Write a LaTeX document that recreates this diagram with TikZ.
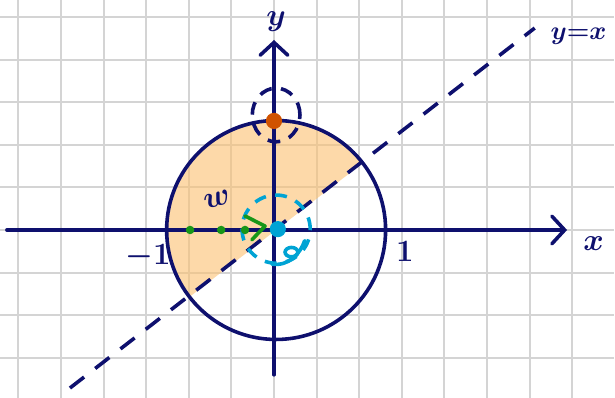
\documentclass[tikz,border=0pt]{standalone}
\usepackage{xcolor}
\usepackage{amsmath}
\usepackage{tikz}
\usetikzlibrary{arrows.meta, positioning, shapes.geometric, calc}
\definecolor{inknavy}{RGB}{14,16,110}
\definecolor{gridgray}{RGB}{212,212,212}
\definecolor{regionorange}{RGB}{251,192,112}
\definecolor{pointorange}{RGB}{208,82,0}
\definecolor{anglecyan}{RGB}{0,163,212}
\definecolor{pathgreen}{RGB}{24,150,24}
\tikzset{
  gridline/.style={draw=gridgray, line width=1.3pt},
  axis/.style={draw=inknavy, line width=2.4pt, line cap=round,
               -{Straight Barb[length=3mm, width=6.5mm, line cap=round]}},
  unitcircle/.style={draw=inknavy, line width=2.4pt, circle, inner sep=0pt, minimum size=5.14cm},
  diagline/.style={draw=inknavy, line width=2.4pt, dash pattern=on 0.42cm off 0.33cm},
  region/.style={fill=regionorange, fill opacity=0.6},
  dot/.style={circle, inner sep=0pt, minimum size=0.38cm},
  greendot/.style={circle, inner sep=0pt, minimum size=0.2cm, fill=pathgreen},
  topring/.style={draw=inknavy, line width=2.4pt, ellipse, inner sep=0pt,
                  minimum width=1.12cm, minimum height=1.26cm, dash pattern=on 0.3cm off 0.22cm},
  cyanring/.style={draw=anglecyan, line width=2.4pt, circle, inner sep=0pt,
                   minimum size=1.6cm, dash pattern=on 0.28cm off 0.22cm},
  cyanink/.style={draw=anglecyan, line width=2.4pt, line cap=round},
  greenink/.style={draw=pathgreen, line width=2.4pt, line cap=round, line join=round},
  hand/.style={text=inknavy, font=\fontsize{22}{26}\selectfont\boldmath, inner sep=1pt},
}

\begin{document}
\begin{tikzpicture}
\useasboundingbox (-6.432,-3.944) rectangle (8.005,5.399);
% squared paper
\draw[gridline] (-6.432,-3.944) grid (7.99,5.399);

% shaded half disc above y=x
\fill[region] ($(0.05,0)+(37.7:2.57)$) arc[start angle=37.7, end angle=217.7, radius=2.57] -- cycle;

% axes
\coordinate (xstart) at (-6.27,0);
\coordinate (xend) at (6.88,0);
\coordinate (ystart) at (0,-3.40);
\coordinate (yend) at (0,4.46);
\draw[axis] (xstart) -- (xend);
\draw[axis] (ystart) -- (yend);

% unit circle and the line y=x
\node[unitcircle] (unit) at (0.05,0) {};
\coordinate (dlow) at (-4.79,-3.71);
\coordinate (dhigh) at (6.12,4.74);
\draw[diagline] (dlow) -- (dhigh);

% labels
\node[hand] (ylabel) at (0.05,4.88) {$y$};
\node[hand] (xlabel) at (7.5,-0.33) {$x$};
\node[hand] (one) at (3.07,-0.5) {$1$};
\node[hand] (mone) at (-2.96,-0.63) {$-1$};
\node[hand, font=\fontsize{18}{22}\selectfont\boldmath] (diaglabel) at (7.15,4.55) {$y{=}x$};
\node[hand, rotate=15] (wlabel) at (-1.34,0.72) {$w$};

% the point on top
\node[topring] (toplook) at (0.05,2.70) {};
\node[dot, fill=pointorange] (top) at (0,2.56) {};

% the origin
\node[cyanring] (origring) at (0.05,0.02) {};
\draw[cyanink] (0.41,-0.52) ellipse[x radius=0.15, y radius=0.11];
\draw[cyanink] (-0.05,-0.80) .. controls (0.35,-0.86) and (0.62,-0.55) .. (0.72,-0.25);
\node[dot, fill=anglecyan] (origin) at (0.09,0.02) {};

% green path towards the origin
\node[greendot] (g1) at (-1.97,0) {};
\node[greendot] (g2) at (-1.24,0) {};
\node[greendot] (g3) at (-0.68,0) {};
\coordinate (gtip) at (-0.21,0.09);
\coordinate (gupper) at (-0.68,0.33);
\coordinate (glower) at (-0.52,-0.23);
\draw[greenink] (gupper) -- (gtip) -- (glower);
\end{tikzpicture}
\end{document}
